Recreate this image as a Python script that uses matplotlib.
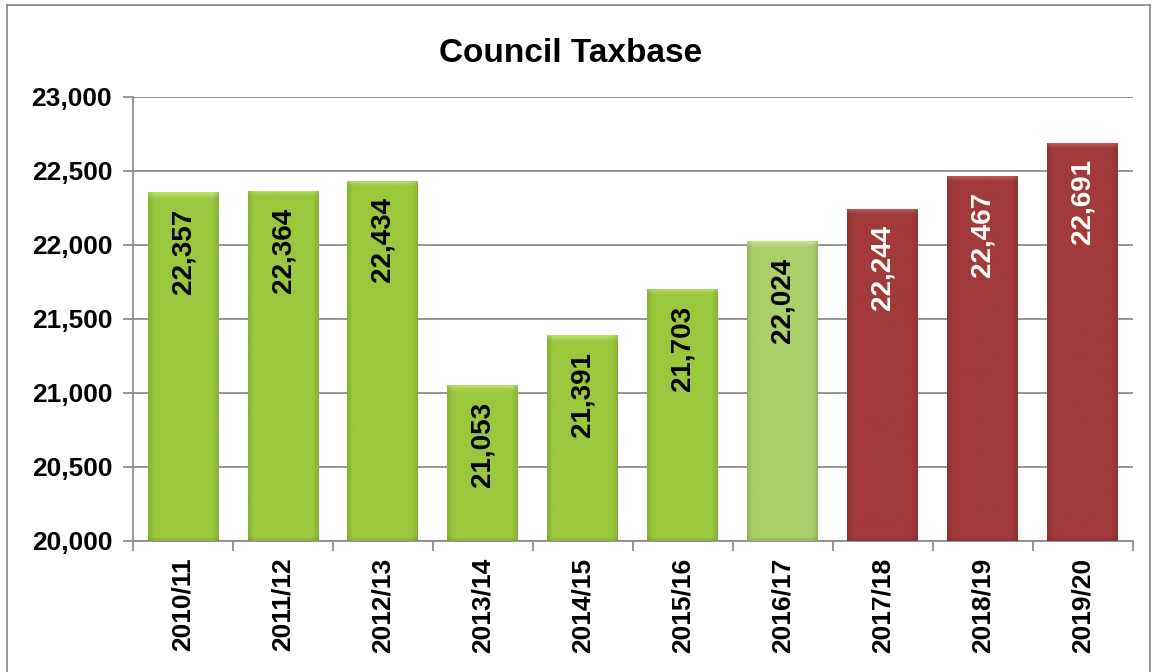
import numpy as np
import matplotlib
matplotlib.use("Agg")
import matplotlib.pyplot as plt
from matplotlib.colors import to_rgb
from matplotlib.ticker import FuncFormatter, MultipleLocator

plt.rcParams["font.family"] = ["Liberation Sans", "DejaVu Sans"]

years = ["2010/11", "2011/12", "2012/13", "2013/14", "2014/15",
         "2015/16", "2016/17", "2017/18", "2018/19", "2019/20"]
taxbase = [22357, 22364, 22434, 21053, 21391, 21703, 22024, 22244, 22467, 22691]
kind = ["actual"] * 6 + ["current"] + ["forecast"] * 3

styles = {
    "actual": {"fill": "#9ac83e", "bevel": "#c2e274", "text": "black"},
    "current": {"fill": "#a9d06a", "bevel": "#c9e89a", "text": "black"},
    "forecast": {"fill": "#a23a3a", "bevel": "#c46464", "text": "white"},
}


def bevel_image(fill, bevel, height, bevel_h=45.0, step=5.0, ncols=60):
    # flat face with a light bevel at the top and shaded sides/bottom
    nrows = max(int(height / step), 2)
    ys = (np.arange(nrows) + 0.5) * step          # distance from bar bottom
    c_fill = np.array(to_rgb(fill))
    c_bev = np.array(to_rgb(bevel))
    img = np.tile(c_fill, (nrows, ncols, 1))
    top = np.clip((ys - (height - bevel_h)) / bevel_h, 0, 1)[:, None, None]
    img = img * (1 - top) + c_bev * top
    bottom = np.clip(1 - ys / 30.0, 0, 1)[:, None, None]
    img = img * (1 - 0.12 * bottom)
    xs = np.linspace(0, 1, ncols)
    side = np.clip(1 - np.minimum(xs, 1 - xs) / 0.08, 0, 1)[None, :, None]
    img = img * (1 - 0.12 * side)
    return np.clip(img, 0, 1)


fig = plt.figure(figsize=(11.57, 6.72), dpi=100)
ax = fig.add_axes([0.115, 0.195, 0.864, 0.661])

x = np.arange(len(years))
bars = ax.bar(x, [v - 20000 for v in taxbase], bottom=20000, width=0.71,
              color="none", edgecolor="none", zorder=3)

for bar, k, v in zip(bars, kind, taxbase):
    st = styles[k]
    bx, by = bar.get_x(), bar.get_y()
    bw, bh = bar.get_width(), bar.get_height()
    im = ax.imshow(bevel_image(st["fill"], st["bevel"], bh), origin="lower",
                   extent=[bx, bx + bw, by, by + bh], aspect="auto", zorder=3,
                   interpolation="bilinear")
    im.set_clip_path(bar)
    ax.annotate(f"{v:,}", (bx + bw / 2, v), xytext=(0, -12),
                textcoords="offset points", rotation=90, ha="center", va="top",
                fontsize=20, weight="bold", color=st["text"], zorder=4)

ax.set_xlim(-0.5, len(years) - 0.5)
ax.set_ylim(20000, 23000)
ax.yaxis.set_major_locator(MultipleLocator(500))
ax.yaxis.set_major_formatter(FuncFormatter(lambda v, p: f"{int(v):,}"))
ax.grid(axis="y", color="#8c8c8c", linewidth=1.3, zorder=0)
ax.set_axisbelow(True)

ax.set_xticks(x)
ax.set_xticklabels(years, rotation=90, fontsize=19, fontweight="bold")
ax.set_xticks(np.arange(-0.5, len(years), 1), minor=True)
ax.tick_params(axis="x", which="major", length=0, pad=12)
ax.tick_params(axis="x", which="minor", length=7, color="#8c8c8c", width=1.3)
ax.tick_params(axis="y", length=7, color="#8c8c8c", width=1.3, pad=8)
for lab in ax.get_yticklabels():
    lab.set_fontsize(19)
    lab.set_fontweight("bold")

for s in ["top", "right"]:
    ax.spines[s].set_visible(False)
for s in ["left", "bottom"]:
    ax.spines[s].set_color("#8c8c8c")
    ax.spines[s].set_linewidth(1.3)

fig.text(0.493, 0.92, "Council Taxbase", ha="center", va="center",
         fontsize=24, fontweight="bold")

# chart frame
fig.add_artist(plt.Line2D([7 / 1157, 7 / 1157], [0, 1 - 5 / 672], color="#8c8c8c", lw=1.3))
fig.add_artist(plt.Line2D([7 / 1157, 1150 / 1157], [1 - 5 / 672, 1 - 5 / 672], color="#8c8c8c", lw=1.3))
fig.add_artist(plt.Line2D([1150 / 1157, 1150 / 1157], [0, 1 - 5 / 672], color="#8c8c8c", lw=1.3))

fig.savefig("out.png", dpi=100)
plt.close(fig)
